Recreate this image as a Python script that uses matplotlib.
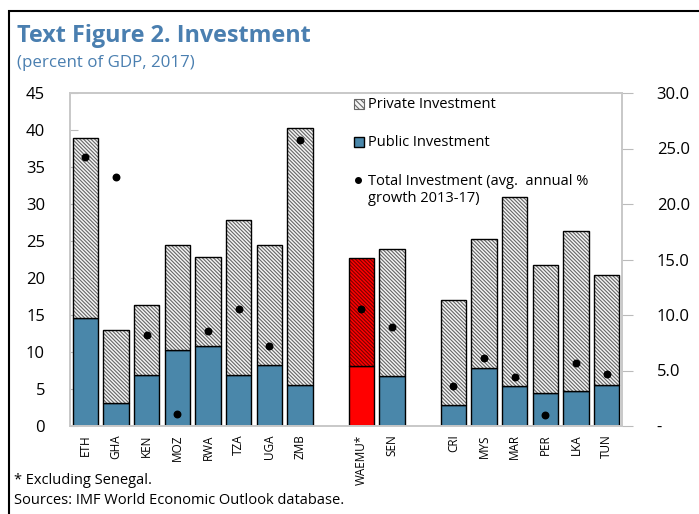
import matplotlib
matplotlib.use("Agg")
import matplotlib.pyplot as plt
from matplotlib.patches import Rectangle
import numpy as np

plt.rcParams['font.family'] = ['Open Sans', 'DejaVu Sans']
plt.rcParams['hatch.linewidth'] = 0.8

countries = ["ETH", "GHA", "KEN", "MOZ", "RWA", "TZA", "UGA", "ZMB",
             "WAEMU*", "SEN",
             "CRI", "MYS", "MAR", "PER", "LKA", "TUN"]
slots = [0, 1, 2, 3, 4, 5, 6, 7, 9, 10, 12, 13, 14, 15, 16, 17]
total_inv = [38.9, 13.0, 16.3, 24.5, 22.8, 27.8, 24.5, 40.3,
             22.7, 23.9,
             17.0, 25.3, 30.9, 21.7, 26.4, 20.4]
public_inv = [14.6, 3.1, 6.9, 10.3, 10.8, 6.9, 8.2, 5.5,
              8.1, 6.8,
              2.8, 7.8, 5.4, 4.4, 4.7, 5.5]
growth = [24.2, 22.4, 8.2, 1.1, 8.6, 10.5, 7.2, 25.8,
          10.5, 8.9,
          3.6, 6.1, 4.4, 1.0, 5.65, 4.7]
private_inv = [t - p for t, p in zip(total_inv, public_inv)]

left_ticks = [0, 5, 10, 15, 20, 25, 30, 35, 40, 45]
right_ticks = [0, 5, 10, 15, 20, 25, 30]
right_labels = ["-", "5.0", "10.0", "15.0", "20.0", "25.0", "30.0"]

W, H = 699, 514
fig = plt.figure(figsize=(W / 100, H / 100), dpi=100)
ax = fig.add_axes([70 / W, (H - 426) / H, (622 - 70) / W, (426 - 93) / H])

blue = "#4A87AA"
hatch_grey = "#666666"
bw = 0.82
for i, (x, c) in enumerate(zip(slots, countries)):
    is_w = c.startswith("WAEMU")
    pub_col = "#FF0000" if is_w else blue
    ax.bar(x, public_inv[i], width=bw, color=pub_col, edgecolor="black",
           linewidth=1.0, zorder=2)
    ax.bar(x, private_inv[i], bottom=public_inv[i], width=bw,
           color="#FF0000" if is_w else "#f4f4f4",
           edgecolor="#7a0000" if is_w else hatch_grey,
           hatch="\\" * 9, linewidth=0, zorder=2)
    ax.bar(x, private_inv[i], bottom=public_inv[i], width=bw,
           fill=False, edgecolor="black", linewidth=1.0, zorder=3)

ax.set_xlim(-0.5, 17.5)
ax.set_ylim(0, 45)
ax.set_yticks(left_ticks)
ax.set_yticklabels([str(v) for v in left_ticks], fontsize=12)
ax.set_xticks(slots)
ax.set_xticklabels(countries, rotation=90, fontsize=8.5)
ax.tick_params(axis='y', direction='in', length=6, color="#bbbbbb", pad=18)
ax.tick_params(axis='x', length=0, pad=6)
for s in ax.spines.values():
    s.set_color("#c8c8c8")
    s.set_linewidth(1.2)

ax2 = ax.twinx()
ax2.set_ylim(0, 30)
ax2.scatter(slots, growth, s=22, color="black", zorder=5)
ax2.set_yticks(right_ticks)
ax2.set_yticklabels(right_labels, fontsize=12)
ax2.tick_params(axis='y', direction='out', length=8, color="#bbbbbb", pad=17)
for s in ax2.spines.values():
    s.set_color("#c8c8c8")
    s.set_linewidth(1.2)
ax2.set_xlim(-0.5, 17.5)

def fx(px):
    return px / W
def fy(py):
    return 1 - py / H

fig.patches.append(Rectangle((fx(354), fy(109)), 10 / W, 10 / H,
                             facecolor="#f4f4f4", edgecolor=hatch_grey,
                             hatch="\\" * 6, linewidth=0.8,
                             transform=fig.transFigure, figure=fig))
fig.patches.append(Rectangle((fx(354), fy(147)), 10 / W, 10 / H,
                             facecolor=blue, edgecolor="black", linewidth=1.0,
                             transform=fig.transFigure, figure=fig))
fig.text(fx(368), fy(104), "Private Investment", fontsize=10.5, va="center")
fig.text(fx(368), fy(142), "Public Investment", fontsize=10.5, va="center")
fig.lines.append(plt.Line2D([fx(358)], [fy(180)], marker="o", markersize=4,
                            color="black", transform=fig.transFigure))
fig.text(fx(368), fy(190), "Total Investment (avg.  annual %\ngrowth 2013-17)",
         fontsize=10.5, va="center", linespacing=1.25)

title_col = "#4A7FB0"
fig.text(fx(17), fy(42), "Text Figure 2. Investment", fontsize=16.8,
         fontweight="bold", color=title_col, va="baseline")
fig.text(fx(17), fy(67), "(percent of GDP, 2017)", fontsize=12.2,
         color=title_col, va="baseline")
fig.text(fx(14), fy(481), "* Excluding Senegal.", fontsize=10.5, va="center")
fig.text(fx(14), fy(501), "Sources: IMF World Economic Outlook database.",
         fontsize=10.5, va="center")

fig.patches.append(Rectangle((fx(9), -0.1), 1.2, fy(11) + 0.1, fill=False,
                             edgecolor="black", linewidth=1.5,
                             transform=fig.transFigure, figure=fig))

fig.savefig("out.png", dpi=100)
